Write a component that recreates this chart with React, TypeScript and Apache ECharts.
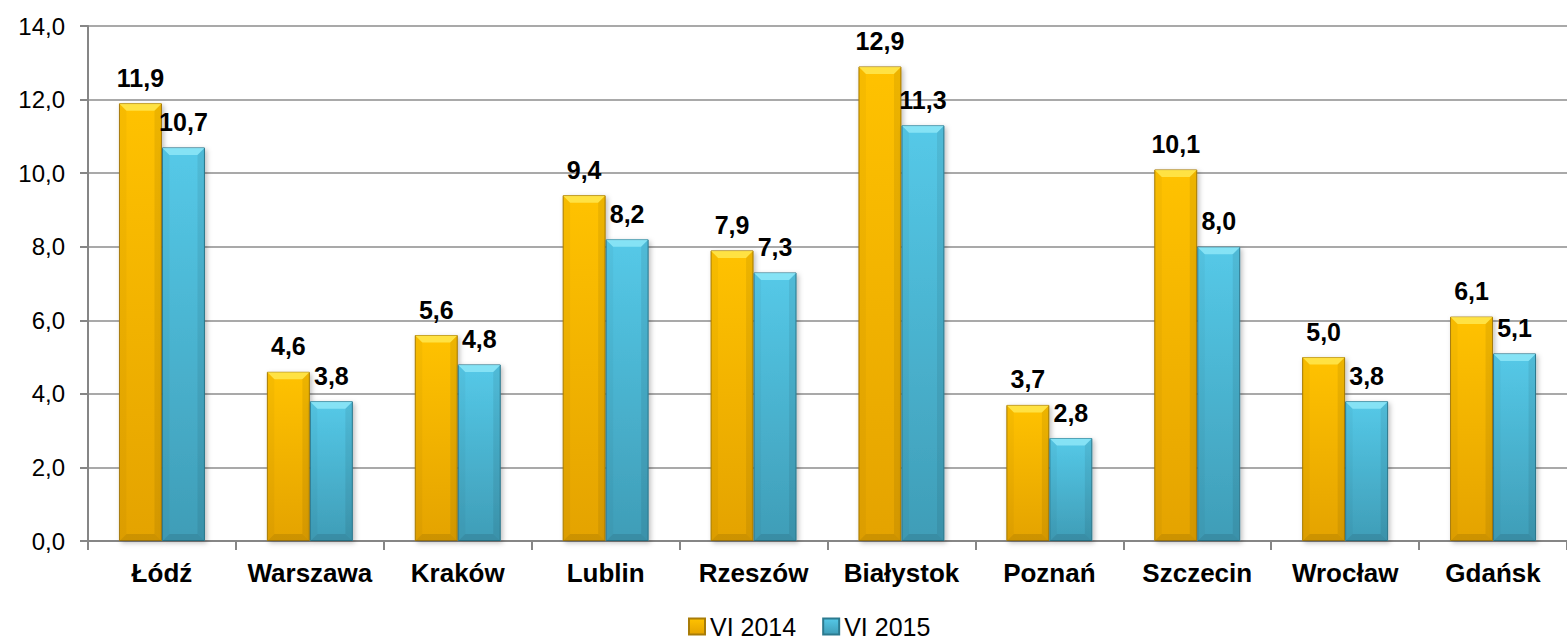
import React, { useEffect, useRef } from "react";
import * as echarts from "echarts";

const categories = ["Łódź", "Warszawa", "Kraków", "Lublin", "Rzeszów", "Białystok", "Poznań", "Szczecin", "Wrocław", "Gdańsk"];
const series2014 = [11.9, 4.6, 5.6, 9.4, 7.9, 12.9, 3.7, 10.1, 5.0, 6.1];
const series2015 = [10.7, 3.8, 4.8, 8.2, 7.3, 11.3, 2.8, 8.0, 3.8, 5.1];
const seriesNames = ["VI 2014", "VI 2015"];

const fmt = (v: number) => v.toFixed(1).replace(".", ",");
const FONT = "Arial, 'Liberation Sans', sans-serif";
const BAR_W = 43;

export default function App() {
  const ref = useRef<HTMLDivElement>(null);
  useEffect(() => {
    if (!ref.current) return;
    const chart = echarts.init(ref.current, null, { renderer: "svg" });
    const orange = new echarts.graphic.LinearGradient(0, 0, 0, 1, [
      { offset: 0, color: "#FFC200" },
      { offset: 1, color: "#E4A300" },
    ]);
    const blue = new echarts.graphic.LinearGradient(0, 0, 0, 1, [
      { offset: 0, color: "#55C9E8" },
      { offset: 1, color: "#3F9DB7" },
    ]);
    const labelStyle = {
      show: true,
      position: "top" as const,
      distance: 13,
      fontFamily: FONT,
      fontWeight: "bold" as const,
      fontSize: 25,
      color: "#000",
      formatter: (p: any) => fmt(p.value),
    };
    const bevelData = categories.map((_, i) => [i, series2014[i], series2015[i]]);

    const bevel = (x0: number, x1: number, yt: number, yb: number, light: string) => {
      const b = Math.min(7, (yb - yt) / 2);
      return [
        { type: "polygon", shape: { points: [[x0, yt], [x1, yt], [x1 - b, yt + b], [x0 + b, yt + b]] }, style: { fill: light } },
        { type: "polygon", shape: { points: [[x0, yb], [x1, yb], [x1 - b, yb - b], [x0 + b, yb - b]] }, style: { fill: "rgba(0,0,0,0.10)" } },
        { type: "polygon", shape: { points: [[x1, yt], [x1, yb], [x1 - b, yb - b], [x1 - b, yt + b]] }, style: { fill: "rgba(0,0,0,0.07)" } },
        { type: "polygon", shape: { points: [[x0, yt], [x0, yb], [x0 + b, yb - b], [x0 + b, yt + b]] }, style: { fill: "rgba(0,0,0,0.03)" } },
      ];
    };

    chart.setOption({
      animation: false,
      grid: { left: 88, top: 26, width: 1490, bottom: 99, containLabel: false },
      legend: {
        top: 609,
        left: 683,
        itemWidth: 16,
        itemHeight: 16,
        itemGap: 26,
        icon: "rect",
        textStyle: { fontFamily: FONT, fontSize: 25, color: "#000" },
        data: seriesNames,
      },
      xAxis: {
        type: "category",
        data: categories,
        axisLine: { lineStyle: { color: "#868686", width: 2 } },
        axisTick: { show: true, interval: 0, length: 9, lineStyle: { color: "#868686", width: 2 } },
        axisLabel: {
          interval: 0,
          fontFamily: FONT,
          fontWeight: "bold",
          fontSize: 26,
          color: "#000",
          margin: 19,
        },
      },
      yAxis: {
        type: "value",
        min: 0,
        max: 14,
        interval: 2,
        axisLine: { show: true, lineStyle: { color: "#868686", width: 2 } },
        axisTick: { show: true, length: 8, lineStyle: { color: "#868686", width: 2 } },
        splitLine: { lineStyle: { color: "#8C8C8C", width: 1.5 } },
        axisLabel: {
          fontFamily: FONT,
          fontSize: 24,
          color: "#000",
          margin: 23,
          formatter: (v: number) => fmt(v),
        },
      },
      series: [
        {
          name: seriesNames[0],
          type: "bar",
          data: series2014,
          barWidth: BAR_W,
          barGap: "0%",
          itemStyle: { color: orange, borderColor: "#A87C08", borderWidth: 1, shadowColor: "rgba(0,0,0,0.25)", shadowBlur: 5, shadowOffsetX: 2, shadowOffsetY: 2 },
          label: labelStyle,
          labelLayout: { hideOverlap: false },
          z: 2,
        },
        {
          name: seriesNames[1],
          type: "bar",
          data: series2015,
          barWidth: BAR_W,
          itemStyle: { color: blue, borderColor: "#2C7A8F", borderWidth: 1, shadowColor: "rgba(0,0,0,0.25)", shadowBlur: 5, shadowOffsetX: 2, shadowOffsetY: 2 },
          label: labelStyle,
          labelLayout: { hideOverlap: false },
          z: 2,
        },
        {
          name: "bevel",
          type: "custom",
          silent: true,
          z: 3,
          data: bevelData,
          encode: { x: 0, y: [1, 2] },
          renderItem: (params: any, api: any) => {
            const i = api.value(0);
            const base = api.coord([i, 0]);
            const p1 = api.coord([i, api.value(1)]);
            const p2 = api.coord([i, api.value(2)]);
            const cx = base[0];
            const children = [
              ...bevel(cx - BAR_W + 0.5, cx - 0.5, p1[1] + 0.5, base[1], "rgba(255,236,90,0.75)"),
              ...bevel(cx + 0.5, cx + BAR_W - 0.5, p2[1] + 0.5, base[1], "rgba(150,235,250,0.75)"),
            ];
            return { type: "group", children };
          },
        },
      ],
    });
    return () => chart.dispose();
  }, []);
  return <div ref={ref} style={{ position: "absolute", left: 0, top: 0, width: 1567, height: 640 }} />;
}
